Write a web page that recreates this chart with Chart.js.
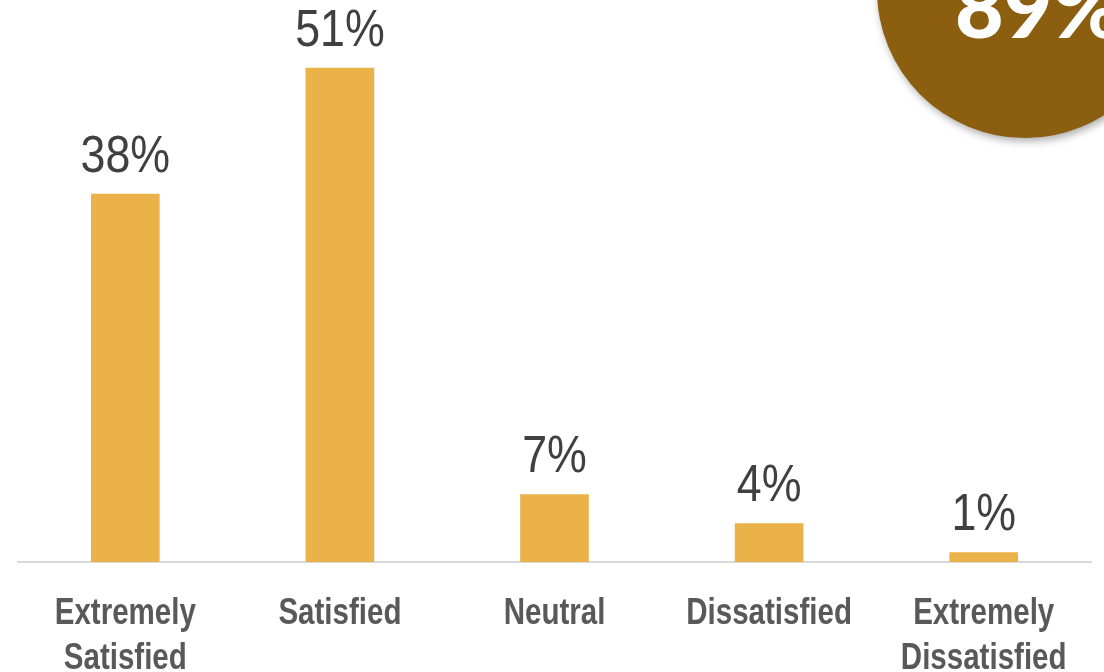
<!DOCTYPE html>
<html>
<head>
<meta charset="utf-8">
<script src="https://cdn.jsdelivr.net/npm/chart.js@4.4.1/dist/chart.umd.min.js"></script>
<style>
  html, body { margin: 0; padding: 0; background: #fff; overflow: hidden; }
  #wrap { width: 1104px; height: 672px; position: relative; }
</style>
</head>
<body>
<div id="wrap"><canvas id="myChart" width="1104" height="672"></canvas></div>
<script>
// satisfaction survey - share of answers per category (%)
var categories = [
  ['Extremely', 'Satisfied'],
  ['Satisfied'],
  ['Neutral'],
  ['Dissatisfied'],
  ['Extremely', 'Dissatisfied']
]
var shares = [38, 51, 7, 4, 1]
var yMin = 0
var yMax = 58

// no narrow font installed, so squeeze Liberation Sans horizontally
var SANS = '"Liberation Sans", Arial, sans-serif'

function narrowText(ctx, text, x, y, squeeze){
  ctx.save()
  ctx.translate(x, y)
  ctx.scale(squeeze, 1)
  ctx.fillText(text, 0, 0)
  ctx.restore()
}

// value labels above the bars
var valueLabels = {
  id: 'valueLabels',
  afterDatasetsDraw: function(chart){
    var ctx = chart.ctx
    var meta = chart.getDatasetMeta(0)
    ctx.save()
    ctx.fillStyle = '#404040'
    ctx.font = '52px ' + SANS
    ctx.textAlign = 'center'
    ctx.textBaseline = 'alphabetic'
    meta.data.forEach(function(bar, i){
      narrowText(ctx, shares[i] + '%', bar.x, bar.y - 22, 0.86)
    })
    ctx.restore()
  }
}

// category names under the axis
var categoryLabels = {
  id: 'categoryLabels',
  afterDraw: function(chart){
    var ctx = chart.ctx
    var x = chart.scales.x
    var top = chart.chartArea.bottom
    ctx.save()
    ctx.fillStyle = '#595959'
    ctx.font = 'bold 36px ' + SANS
    ctx.textAlign = 'center'
    ctx.textBaseline = 'alphabetic'
    categories.forEach(function(lines, i){
      var px = x.getPixelForValue(i)
      lines.forEach(function(line, j){
        narrowText(ctx, line, px, top + 62 + j * 45, 0.82)
      })
    })
    ctx.restore()
  }
}

// brown badge in the top right corner with the total of the two "satisfied" answers
var badge = {
  id: 'badge',
  afterDraw: function(chart){
    var ctx = chart.ctx
    var total = shares[0] + shares[1]
    ctx.save()
    ctx.shadowColor = 'rgba(0,0,0,0.35)'
    ctx.shadowBlur = 8
    ctx.shadowOffsetX = 2
    ctx.shadowOffsetY = 3
    ctx.fillStyle = '#8B5E10'
    ctx.beginPath()
    ctx.arc(1025, -10, 148, 0, Math.PI * 2)
    ctx.fill()
    ctx.shadowColor = 'transparent'
    ctx.fillStyle = '#ffffff'
    ctx.font = '900 84px Lato, "DejaVu Sans", sans-serif'
    ctx.textAlign = 'left'
    ctx.textBaseline = 'alphabetic'
    ctx.fillText(total + '%', 955, 38)
    ctx.restore()
  }
}

var chart = new Chart(document.getElementById('myChart').getContext('2d'), {
  type: 'bar',
  data: {
    labels: categories.map(function(c){ return c.join(' ') }),
    datasets: [{
      data: shares,
      backgroundColor: '#EBB249',
      borderWidth: 0,
      categoryPercentage: 1,
      barPercentage: 0.32
    }]
  },
  options: {
    responsive: false,
    animation: false,
    layout: { padding: { left: 18, right: 13, top: 0, bottom: 110 } },
    plugins: {
      legend: { display: false },
      tooltip: { enabled: false }
    },
    scales: {
      x: {
        grid: { display: false, drawTicks: false },
        border: { display: true, color: '#D9D9D9', width: 2 },
        ticks: { display: false }
      },
      y: {
        display: false,
        min: yMin,
        max: yMax
      }
    }
  },
  plugins: [valueLabels, categoryLabels, badge]
})
</script>
</body>
</html>
